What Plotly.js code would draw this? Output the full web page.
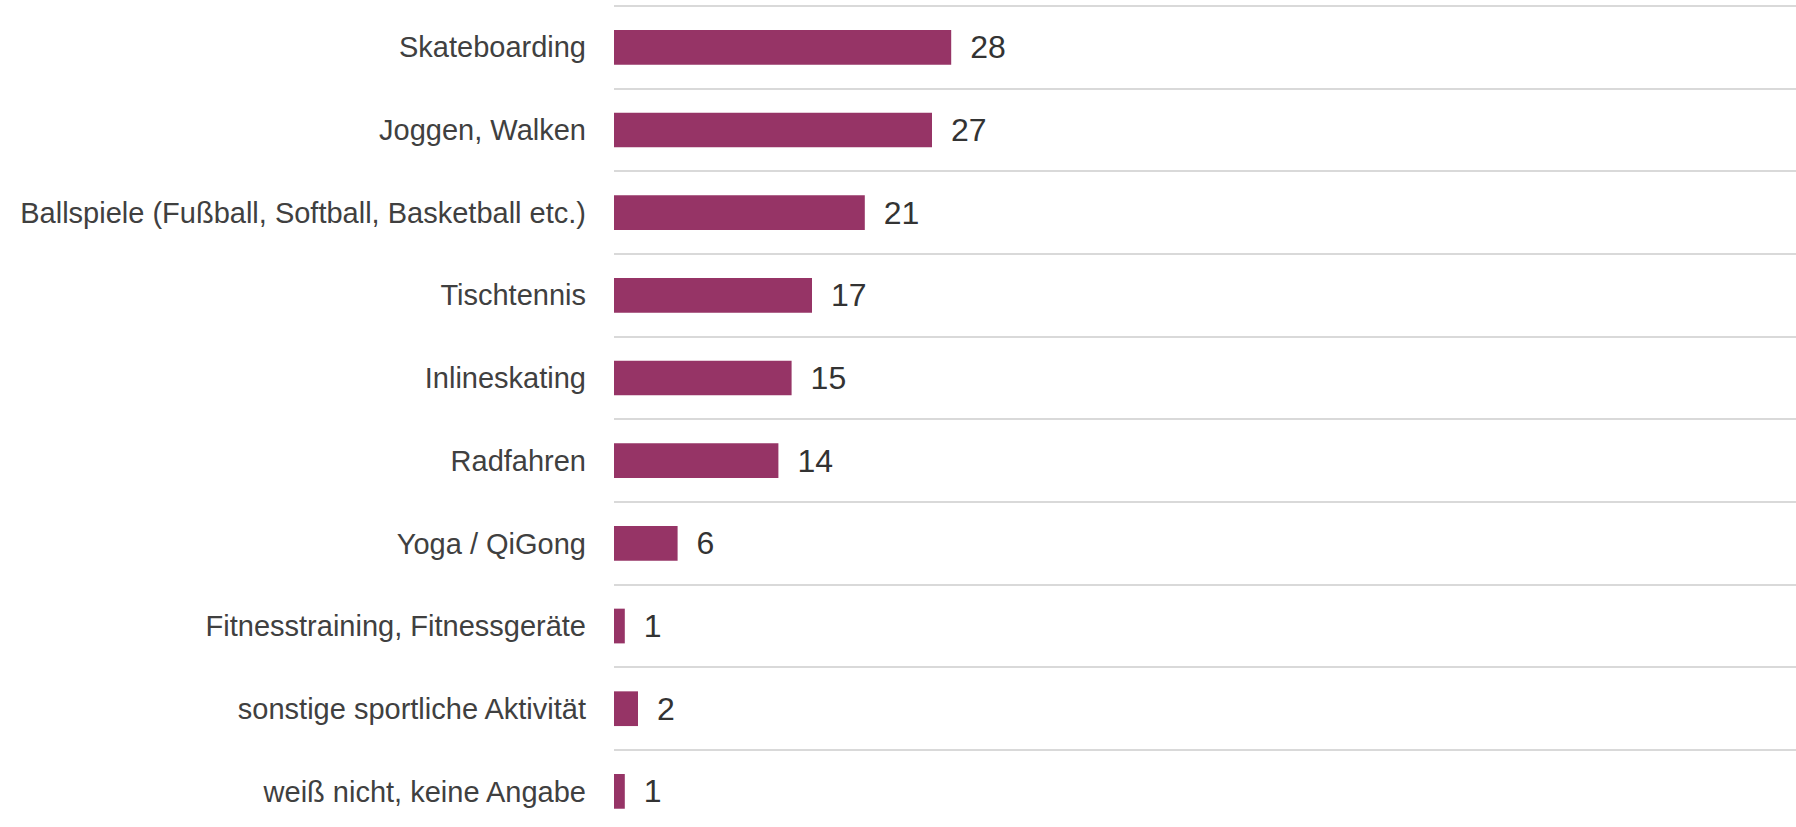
<!DOCTYPE html>
<html>
<head>
<meta charset="utf-8">
<script src="https://cdn.plot.ly/plotly-3.0.1.min.js"></script>
<style>
  html, body { margin: 0; padding: 0; background: #ffffff; }
  #chart { width: 1796px; height: 827px; }
</style>
</head>
<body>
<div id="chart"></div>
<script>
// Categories (top to bottom)
const categories = [
  "Skateboarding",
  "Joggen, Walken",
  "Ballspiele (Fußball, Softball, Basketball etc.)",
  "Tischtennis",
  "Inlineskating",
  "Radfahren",
  "Yoga / QiGong",
  "Fitnesstraining, Fitnessgeräte",
  "sonstige sportliche Aktivität",
  "weiß nicht, keine Angabe"
];
// Bar lengths
const values = [28.1, 26.5, 20.9, 16.5, 14.8, 13.7, 5.3, 0.9, 2.0, 0.9];
// Value labels as printed
const valueLabels = ["28", "27", "21", "17", "15", "14", "6", "1", "2", "1"];

const FONT = 'Arial, "Liberation Sans", sans-serif';

const trace = {
  type: "bar",
  orientation: "h",
  y: categories,
  x: values,
  text: valueLabels.map(t => "\u2002" + t),
  textposition: "outside",
  textfont: { family: FONT, size: 32, color: "#333333" },
  constraintext: "none",
  cliponaxis: false,
  width: 0.42,
  marker: { color: "#963466", line: { width: 0 } },
  hoverinfo: "none"
};

const layout = {
  width: 1796,
  height: 827,
  margin: { l: 614, r: 0, t: 4, b: 0, pad: 0 },
  paper_bgcolor: "#ffffff",
  plot_bgcolor: "#ffffff",
  showlegend: false,
  font: { family: FONT, color: "#404040" },
  xaxis: {
    range: [0, 98.5],
    showgrid: false,
    zeroline: false,
    showticklabels: false,
    showline: false,
    ticks: "",
    fixedrange: true
  },
  yaxis: {
    type: "category",
    categoryorder: "array",
    categoryarray: categories,
    range: [9.431, -0.524],
    autorange: false,
    tickson: "boundaries",
    showgrid: true,
    gridcolor: "#d9d9d9",
    gridwidth: 2,
    zeroline: false,
    showline: false,
    ticks: "",
    ticklabelstandoff: 27,
    tickfont: { family: FONT, size: 29, color: "#404040" },
    fixedrange: true
  }
};

Plotly.newPlot("chart", [trace], layout, { displayModeBar: false, staticPlot: true });
</script>
</body>
</html>
